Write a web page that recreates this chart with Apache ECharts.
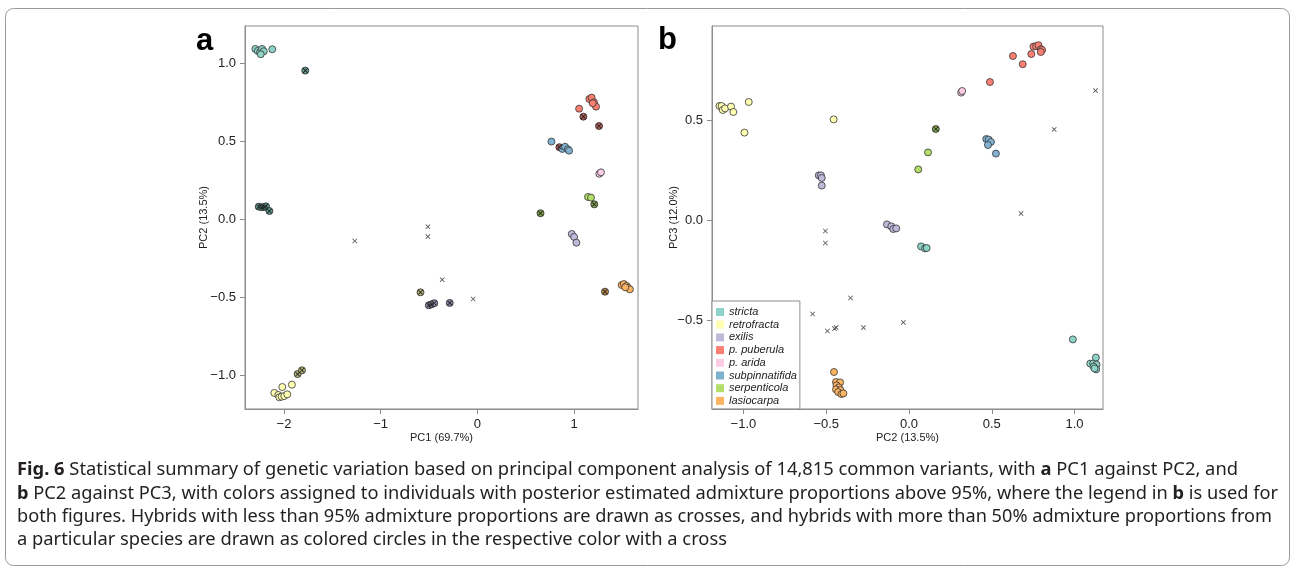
<!DOCTYPE html>
<html>
<head>
<meta charset="utf-8">
<script src="https://cdn.jsdelivr.net/npm/echarts@6/dist/echarts.min.js"></script>
<style>
  html, body { margin: 0; padding: 0; background: #fff; }
  #myChart { width: 1293px; height: 577px; }
</style>
</head>
<body>
<div id="myChart"></div>
<script>
// species + colours (legend order of panel b)
var species = ['stricta', 'retrofracta', 'exilis', 'p. puberula', 'p. arida', 'subpinnatifida', 'serpenticola', 'lasiocarpa'];
var colors = ['#8DD3C7', '#FFFFB3', '#BEBADA', '#FB8072', '#FCCDE5', '#80B1D3', '#B3DE69', '#FDB462'];
var hybridColors = ['#5e9c92', '#b9b97a', '#8b88a8', '#b55f57', '#c9a0b5', '#5f86a2', '#86a84e', '#c08a4a'];

// tick labels
var aXTicks = [-2, -1, 0, 1];
var aYTicks = [-1.0, -0.5, 0.0, 0.5, 1.0];
var bXTicks = [-1.0, -0.5, 0.0, 0.5, 1.0];
var bYTicks = [-0.5, 0.0, 0.5];

// panel a : PC1 vs PC2
var a_stricta = [[-2.296, 1.090], [-2.271, 1.077], [-2.247, 1.069], [-2.227, 1.090], [-2.209, 1.075], [-2.240, 1.056], [-2.121, 1.088]];
var a_retrofracta = [[-2.100, -1.115], [-2.059, -1.128], [-2.048, -1.143], [-2.024, -1.139], [-1.997, -1.135], [-1.966, -1.124], [-2.017, -1.077], [-1.918, -1.062]];
var a_exilis = [[0.976, -0.096], [1.000, -0.115], [1.024, -0.152]];
var a_puberula = [[1.158, 0.769], [1.182, 0.778], [1.206, 0.748], [1.227, 0.720], [1.193, 0.742], [1.052, 0.707]];
var a_arida = [[1.261, 0.290], [1.278, 0.299]];
var a_subpinnatifida = [[0.766, 0.496], [0.879, 0.449], [0.907, 0.463], [0.935, 0.447], [0.948, 0.438]];
var a_serpenticola = [[1.144, 0.141], [1.175, 0.137]];
var a_lasiocarpa = [[1.492, -0.423], [1.515, -0.417], [1.543, -0.429], [1.557, -0.440], [1.577, -0.451], [1.529, -0.438]];
// hybrids > 50% (coloured circle + cross)
var a_hyb_stricta = [[-1.780, 0.951], [-2.261, 0.079], [-2.230, 0.075], [-2.203, 0.077], [-2.186, 0.081], [-2.151, 0.051]];
var a_hyb_retrofracta = [[-0.588, -0.470], [-1.859, -0.994], [-1.814, -0.970]];
var a_hyb_exilis = [[-0.502, -0.553], [-0.474, -0.547], [-0.446, -0.540], [-0.286, -0.538]];
var a_hyb_puberula = [[1.096, 0.656], [1.258, 0.596], [0.848, 0.460]];
var a_hyb_serpenticola = [[1.209, 0.094], [0.653, 0.037]];
var a_hyb_lasiocarpa = [[1.320, -0.466]];
// hybrids < 95% (crosses)
var a_crosses = [[-1.268, -0.141], [-0.512, -0.049], [-0.512, -0.113], [-0.364, -0.389], [-0.044, -0.513]];

// panel b : PC2 vs PC3
var b_stricta = [[0.073, -0.132], [0.097, -0.142], [0.107, -0.140], [0.990, -0.597], [1.095, -0.718], [1.113, -0.717], [1.129, -0.688], [1.133, -0.723], [1.115, -0.733], [1.131, -0.747], [1.121, -0.742]];
var b_retrofracta = [[-1.145, 0.570], [-1.132, 0.570], [-1.125, 0.550], [-1.111, 0.558], [-1.075, 0.567], [-1.061, 0.540], [-0.968, 0.590], [-0.994, 0.437], [-0.455, 0.503]];
var b_exilis = [[-0.545, 0.223], [-0.532, 0.223], [-0.527, 0.210], [-0.527, 0.172], [-0.133, -0.022], [-0.107, -0.032], [-0.095, -0.045], [-0.077, -0.042]];
var b_puberula = [[0.752, 0.867], [0.768, 0.869], [0.782, 0.874], [0.796, 0.854], [0.804, 0.850], [0.796, 0.840], [0.739, 0.830], [0.628, 0.820], [0.687, 0.779], [0.489, 0.690]];
var b_arida = [[0.315, 0.637], [0.321, 0.645]];
var b_subpinnatifida = [[0.467, 0.405], [0.481, 0.402], [0.495, 0.390], [0.477, 0.375], [0.525, 0.332]];
var b_serpenticola = [[0.115, 0.338], [0.056, 0.253]];
var b_lasiocarpa = [[-0.453, -0.760], [-0.441, -0.810], [-0.416, -0.812], [-0.438, -0.827], [-0.424, -0.837], [-0.441, -0.847], [-0.414, -0.850], [-0.428, -0.860], [-0.408, -0.870], [-0.396, -0.867]];
var b_hyb_serpenticola = [[0.162, 0.455]];
var b_crosses = [[1.127, 0.647], [0.877, 0.453], [0.677, 0.032], [-0.505, -0.055], [-0.505, -0.115], [-0.353, -0.390], [-0.582, -0.470], [-0.493, -0.555], [-0.450, -0.543], [-0.440, -0.538], [-0.275, -0.538], [-0.034, -0.512]];

var captionLines = [
  [['b', 'Fig. 6'], ['n', ' Statistical summary of genetic variation based on principal component analysis of 14,815 common variants, with '], ['b', 'a'], ['n', ' PC1 against PC2, and']],
  [['b', 'b'], ['n', ' PC2 against PC3, with colors assigned to individuals with posterior estimated admixture proportions above 95%, where the legend in '], ['b', 'b'], ['n', ' is used for']],
  [['n', 'both figures. Hybrids with less than 95% admixture proportions are drawn as crosses, and hybrids with more than 50% admixture proportions from']],
  [['n', 'a particular species are drawn as colored circles in the respective color with a cross']]
];

var aPts = [a_stricta, a_retrofracta, a_exilis, a_puberula, a_arida, a_subpinnatifida, a_serpenticola, a_lasiocarpa];
var bPts = [b_stricta, b_retrofracta, b_exilis, b_puberula, b_arida, b_subpinnatifida, b_serpenticola, b_lasiocarpa];
var aHyb = [a_hyb_stricta, a_hyb_retrofracta, a_hyb_exilis, a_hyb_puberula, [], [], a_hyb_serpenticola, a_hyb_lasiocarpa];
var bHyb = [[], [], [], [], [], [], b_hyb_serpenticola, []];

var FONT = 'Liberation Sans, Arial, sans-serif';
var CROSS = 'path://M0,1.2L1.2,0L5,3.8L8.8,0L10,1.2L6.2,5L10,8.8L8.8,10L5,6.2L1.2,10L0,8.8L3.8,5Z';
var minus = function (s) { return s.replace('-', '\u2212'); };

function axisX(grid, min, max, ticks, digits, name, gap) {
  return {
    type: 'value', gridIndex: grid, min: min, max: max,
    name: name, nameLocation: 'middle', nameGap: gap, nameMoveOverlap: false,
    nameTextStyle: { fontSize: 11, color: '#222', fontFamily: FONT },
    axisLine: { show: true, onZero: false, lineStyle: { color: '#8c8c8c' } },
    axisTick: { show: true, length: 5, customValues: ticks, lineStyle: { color: '#8c8c8c' } },
    axisLabel: { customValues: ticks, margin: 9, fontSize: 13, color: '#222', fontFamily: FONT,
      formatter: function (v) { return minus((+v).toFixed(digits)); } },
    splitLine: { show: false }
  };
}
function axisY(grid, min, max, ticks, name, gap, margin) {
  return {
    type: 'value', gridIndex: grid, min: min, max: max,
    name: name, nameLocation: 'middle', nameGap: gap, nameMoveOverlap: false,
    nameTextStyle: { fontSize: 11, color: '#222', fontFamily: FONT },
    axisLine: { show: true, onZero: false, lineStyle: { color: '#8c8c8c' } },
    axisTick: { show: true, length: 5, customValues: ticks, lineStyle: { color: '#8c8c8c' } },
    axisLabel: { customValues: ticks, margin: margin, fontSize: 13, color: '#222', fontFamily: FONT,
      formatter: function (v) { return minus((+v).toFixed(1)); } },
    splitLine: { show: false }
  };
}

var series = [];
function addPanel(idx, pts, hyb, crosses) {
  for (var i = 0; i < species.length; i++) {
    series.push({
      type: 'scatter', name: species[i], xAxisIndex: idx, yAxisIndex: idx,
      data: pts[i], symbol: 'circle', symbolSize: 7, z: 2,
      itemStyle: { color: colors[i], borderColor: '#333', borderWidth: 0.8, opacity: 1 }
    });
    if (hyb[i].length) {
      series.push({
        type: 'scatter', name: 'hybrid ' + species[i], xAxisIndex: idx, yAxisIndex: idx,
        data: hyb[i], symbol: 'circle', symbolSize: 7, z: 2,
        itemStyle: { color: hybridColors[i], borderColor: '#222', borderWidth: 0.8, opacity: 1 }
      });
      series.push({
        type: 'scatter', name: 'hybrid cross ' + species[i], xAxisIndex: idx, yAxisIndex: idx,
        data: hyb[i], symbol: CROSS, symbolSize: 5, z: 3,
        itemStyle: { color: '#222', opacity: 1 }
      });
    }
  }
  series.push({
    type: 'scatter', name: 'cross', xAxisIndex: idx, yAxisIndex: idx,
    data: crosses, symbol: CROSS, symbolSize: 5, z: 3,
    itemStyle: { color: '#555', opacity: 1 }
  });
}
addPanel(0, aPts, aHyb, a_crosses);
addPanel(1, bPts, bHyb, b_crosses);

// caption: one text per line, squeezed to the line width of the print
var capFont = 'Noto Sans, sans-serif';
var capSize = 17.5;
var capTargets = [1221, 1261, 1255, 710];
var ctx = document.createElement('canvas').getContext('2d');
var graphics = [
  { type: 'rect', shape: { x: 5.5, y: 8.5, width: 1284, height: 557, r: 8 },
    style: { fill: 'none', stroke: '#9a9a9a', lineWidth: 1 }, silent: true },
  { type: 'text', left: 196, top: 26, silent: true,
    style: { text: 'a', font: 'bold 31px ' + FONT, fill: '#000' } },
  { type: 'text', left: 658, top: 25, silent: true,
    style: { text: 'b', font: 'bold 31px ' + FONT, fill: '#000' } }
];
var capY = [470, 494, 517, 540];
captionLines.forEach(function (line, k) {
  var w = 0, txt = '';
  line.forEach(function (seg) {
    ctx.font = (seg[0] === 'b' ? 'bold ' : '') + capSize + 'px ' + capFont;
    w += ctx.measureText(seg[1]).width;
    txt += '{' + seg[0] + '|' + seg[1] + '}';
  });
  var sx = capTargets[k] / w;
  graphics.push({
    type: 'text', x: 17, y: capY[k], scaleX: sx, silent: true,
    style: {
      text: txt, verticalAlign: 'middle', fill: '#231f20',
      rich: {
        n: { fontSize: capSize, fontFamily: capFont, color: '#231f20' },
        b: { fontSize: capSize, fontFamily: capFont, fontWeight: 'bold', color: '#231f20' }
      }
    }
  });
});

var myChart = echarts.init(document.getElementById('myChart'), null, { renderer: 'canvas' });
var option = {
  animation: false,
  backgroundColor: '#fff',
  grid: [
    { left: 245, top: 26, width: 393, height: 383, show: true, borderColor: '#8c8c8c', borderWidth: 1, backgroundColor: 'transparent' },
    { left: 712, top: 26, width: 391, height: 383, show: true, borderColor: '#8c8c8c', borderWidth: 1, backgroundColor: 'transparent' }
  ],
  xAxis: [
    axisX(0, -2.403, 1.661, aXTicks, 0, 'PC1 (69.7%)', 23),
    axisX(1, -1.190, 1.172, bXTicks, 1, 'PC2 (13.5%)', 23)
  ],
  yAxis: [
    axisY(0, -1.218, 1.237, aYTicks, 'PC2 (13.5%)', 36, 9),
    axisY(1, -0.945, 0.970, bYTicks, 'PC3 (12.0%)', 33, 9)
  ],
  legend: {
    data: species, orient: 'vertical', left: 712, top: 301,
    icon: 'rect', itemWidth: 8, itemHeight: 8, itemGap: 0.7,
    padding: [5, 3, 2, 4], borderColor: '#8c8c8c', borderWidth: 1, backgroundColor: '#fff',
    selectedMode: false,
    itemStyle: { borderWidth: 0 },
    textStyle: { fontSize: 11, fontStyle: 'italic', color: '#222', fontFamily: FONT, lineHeight: 12 }
  },
  graphic: graphics,
  series: series
};
myChart.setOption(option, true);
</script>
</body>
</html>
